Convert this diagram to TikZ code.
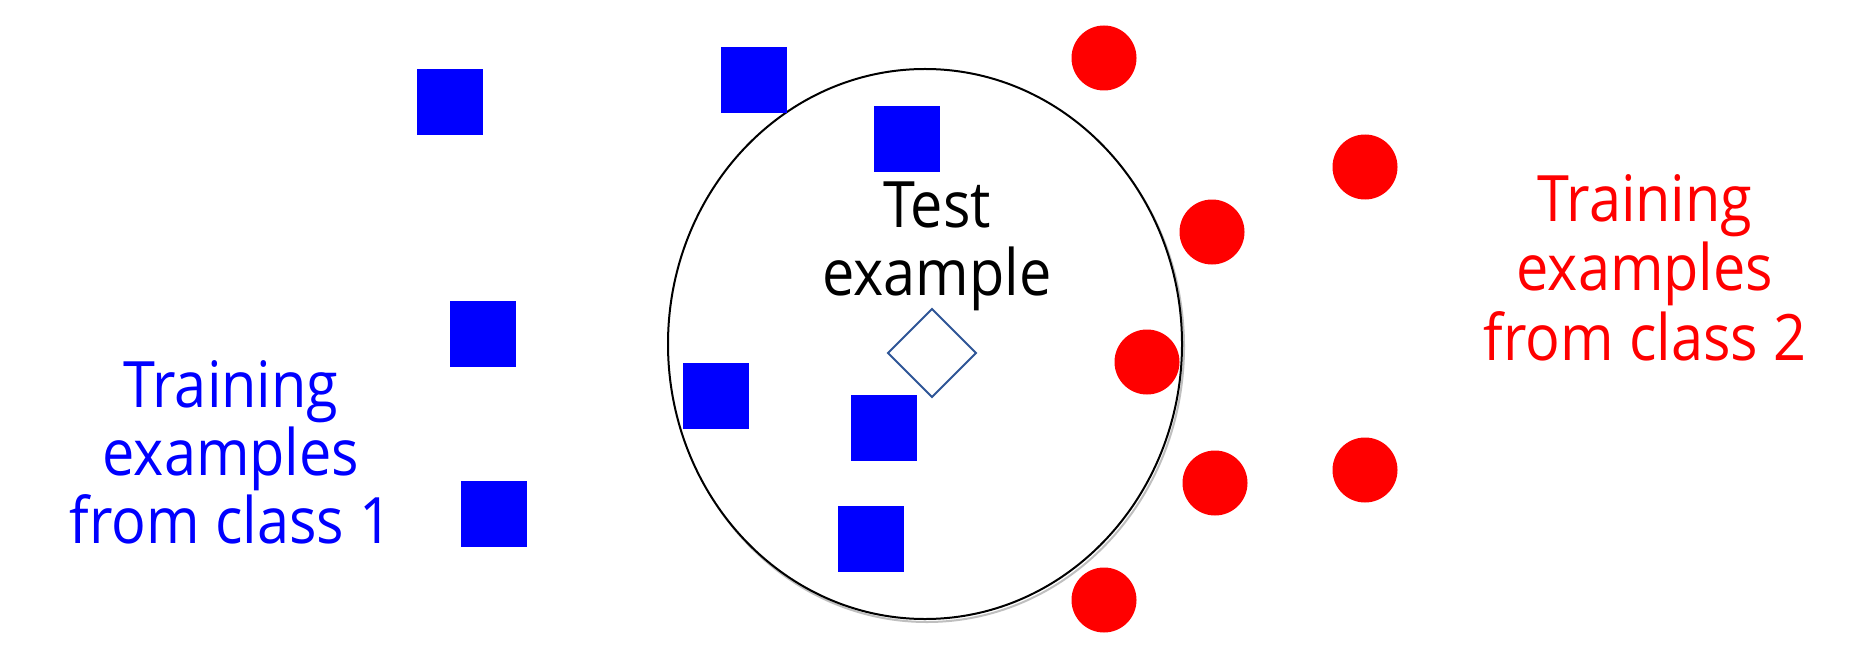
\documentclass[tikz,border=0pt]{standalone}
\usepackage{fontspec}
\setmainfont{Open Sans}[FakeStretch=0.9]
\usetikzlibrary{shapes.geometric}
\definecolor{sqblue}{HTML}{0000FF}
\definecolor{dotred}{HTML}{FF0000}
\definecolor{dmblue}{HTML}{2F5597}
\tikzset{
  sq/.style={rectangle, fill=sqblue, minimum size=66bp, inner sep=0pt, outer sep=0pt},
  dot/.style={circle, fill=dotred, minimum size=65bp, inner sep=0pt, outer sep=0pt},
  txt/.style={anchor=base, inner sep=0pt, font=\fontsize{64bp}{68bp}\selectfont},
  bluetxt/.style={txt, text=sqblue},
  redtxt/.style={txt, text=dotred},
  blacktxt/.style={txt, text=black},
}
\begin{document}
\begin{tikzpicture}[x=1bp, y=-1bp]
\useasboundingbox[fill=white] (0,0) rectangle (1851,657);
% neighbourhood
\node[ellipse, draw=black!25, line width=2bp, minimum width=514bp, minimum height=550bp, inner sep=0pt] (shadow) at (927,347) {};
\node[ellipse, draw=black, fill=white, line width=2bp, minimum width=514bp, minimum height=550bp, inner sep=0pt] (hood) at (925,344) {};
% class 1 squares
\node[sq] (s1) at (450,102) {};
\node[sq] (s2) at (754,80) {};
\node[sq] (s3) at (907,139) {};
\node[sq] (s4) at (483,334) {};
\node[sq] (s5) at (494,514) {};
\node[sq] (s6) at (716,396) {};
\node[sq] (s7) at (884,428) {};
\node[sq] (s8) at (871,539) {};
% class 2 circles
\node[dot] (c1) at (1104,58) {};
\node[dot] (c2) at (1365,167) {};
\node[dot] (c3) at (1212,232) {};
\node[dot] (c4) at (1147,362) {};
\node[dot] (c5) at (1215,483) {};
\node[dot] (c6) at (1365,470) {};
\node[dot] (c7) at (1104,600) {};
% test example
\node[diamond, draw=dmblue, line width=2bp, minimum size=88bp, inner sep=0pt, outer sep=0pt] (test) at (932,353) {};
% labels
\node[blacktxt] (t1) at (937,227) {Test};
\node[blacktxt] (t2) at (937,295) {example};
\node[bluetxt] (b1) at (231,407) {Training};
\node[bluetxt] (b2) at (231,475) {examples};
\node[bluetxt] (b3) at (231,543) {from class 1};
\node[redtxt] (r1) at (1645,221) {Training};
\node[redtxt] (r2) at (1645,290) {examples};
\node[redtxt] (r3) at (1645,360) {from class 2};
\end{tikzpicture}
\end{document}
